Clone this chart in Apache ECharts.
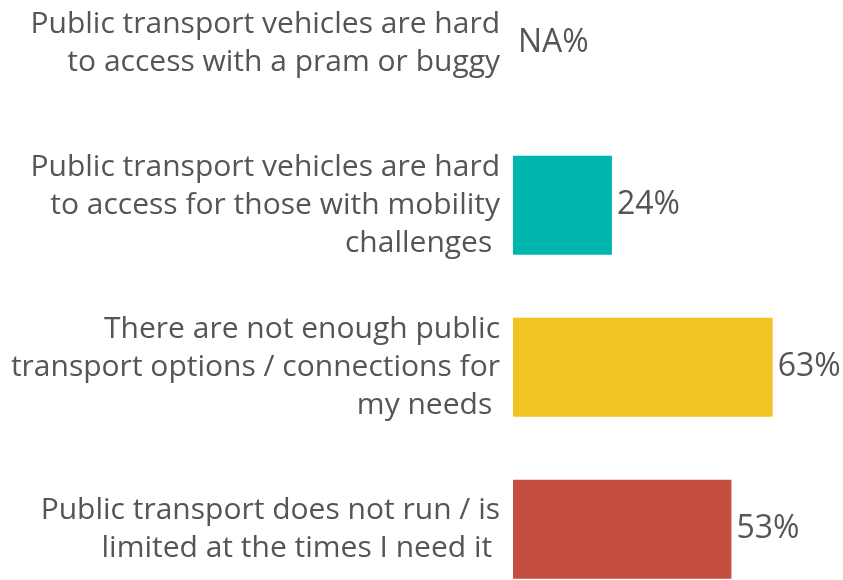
<!DOCTYPE html>
<html>
<head>
<meta charset="utf-8">
<script src="https://cdn.jsdelivr.net/npm/echarts@6/dist/echarts.min.js"></script>
<style>
  html, body { margin: 0; padding: 0; background: #fff; }
  #main { width: 843px; height: 580px; }
</style>
</head>
<body>
<div id="main"></div>
<script>
// categories, top to bottom
var categories = [
    'Public transport vehicles are hard\nto access with a pram or buggy',
    'Public transport vehicles are hard\nto access for those with mobility\nchallenges ',
    'There are not enough public\ntransport options / connections for\nmy needs ',
    'Public transport does not run / is\nlimited at the times I need it '
];
var values = [null, 24, 63, 53];   // null = NA
var colors = ['#00B5AD', '#00B5AD', '#F2C423', '#C44E40'];

var myChart = echarts.init(document.getElementById('main'));

var option = {
    animation: false,
    grid: {
        left: 513,
        right: 41.5,
        top: 43.3,
        bottom: 50.7
    },
    xAxis: {
        type: 'value',
        min: 0,
        max: 70,
        show: false
    },
    yAxis: {
        type: 'category',
        inverse: true,
        boundaryGap: false,   // first / last category sit on the grid edges
        data: categories,
        axisLine: { show: false },
        axisTick: { show: false },
        splitLine: { show: false },
        axisLabel: {
            margin: 13,
            fontFamily: 'Open Sans',
            fontSize: 30,
            lineHeight: 38,
            color: '#555555'
        }
    },
    series: [
        {
            type: 'bar',
            barWidth: 99,
            clip: false,
            data: values.map(function (v, i) {
                return { value: v === null ? 0 : v, itemStyle: { color: colors[i] } };
            }),
            label: {
                show: true,
                position: 'right',
                distance: 5,
                fontFamily: 'Open Sans',
                fontSize: 32,
                color: '#555555',
                formatter: function (p) {
                    var v = values[p.dataIndex];
                    return (v === null ? 'NA' : v) + '%';
                }
            }
        }
    ]
};

myChart.setOption(option, true);
</script>
</body>
</html>
